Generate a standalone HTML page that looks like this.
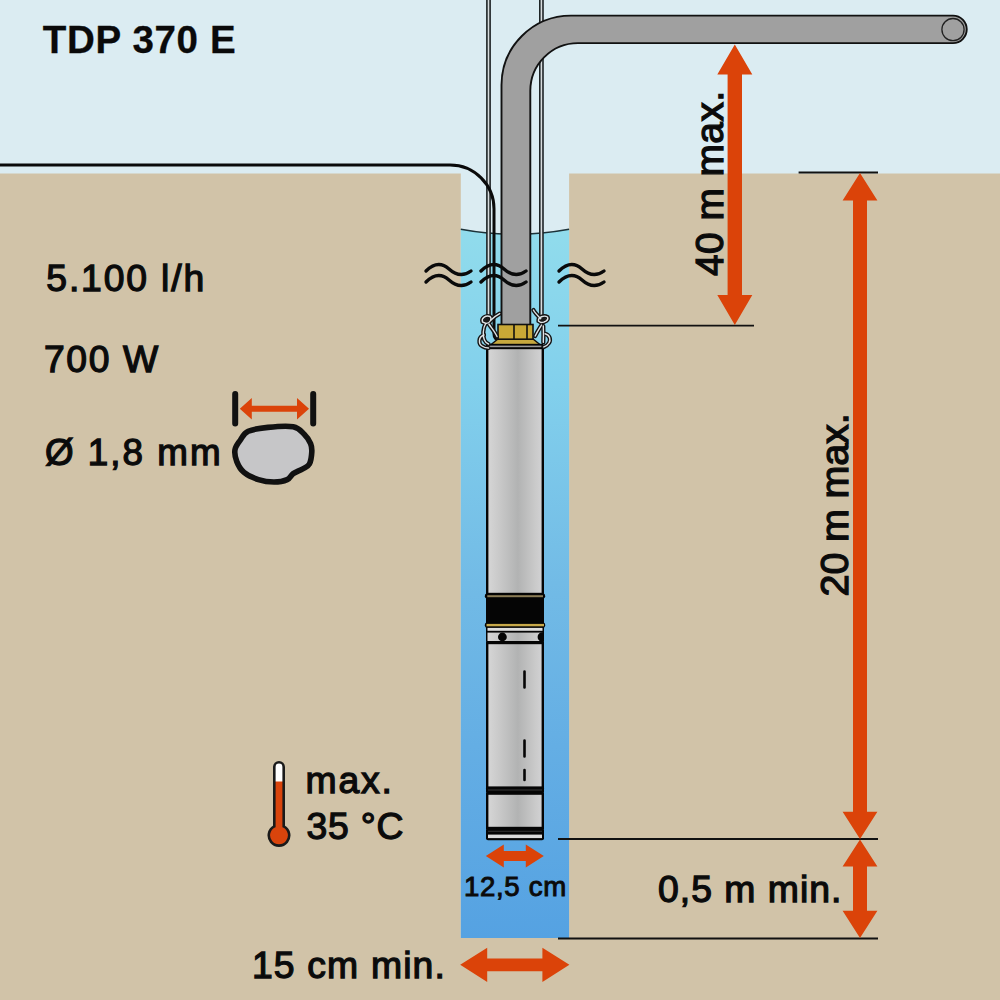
<!DOCTYPE html>
<html><head><meta charset="utf-8"><style>
html,body{margin:0;padding:0;width:1000px;height:1000px;overflow:hidden;background:#dbecf2}
svg{display:block}
text{font-family:"Liberation Sans",sans-serif;fill:#0a0a0a}
</style></head><body>
<svg width="1000" height="1000" viewBox="0 0 1000 1000">
<defs>
<linearGradient id="water" x1="0" y1="228" x2="0" y2="938" gradientUnits="userSpaceOnUse">
<stop offset="0" stop-color="#91dcec"/>
<stop offset="0.22" stop-color="#82d0ec"/>
<stop offset="0.5" stop-color="#72bbe6"/>
<stop offset="0.73" stop-color="#64aee4"/>
<stop offset="1" stop-color="#55a2e2"/>
</linearGradient>
<linearGradient id="metal" x1="486" y1="0" x2="544" y2="0" gradientUnits="userSpaceOnUse">
<stop offset="0" stop-color="#d8d8d8"/>
<stop offset="0.2" stop-color="#cbcbcb"/>
<stop offset="0.55" stop-color="#b2b3b3"/>
<stop offset="0.85" stop-color="#cacaca"/>
<stop offset="1" stop-color="#d4d4d6"/>
</linearGradient>
</defs>
<!-- sky -->
<rect x="0" y="0" width="1000" height="1000" fill="#dbecf2"/>
<!-- ground -->
<path d="M0,173.5 H460.8 V938 H569.1 V173.5 H1000 V1000 H0 Z" fill="#d1c3a8"/>
<!-- water -->
<path d="M460.8,229.3 Q515,239.3 569.1,229.3 V938 H460.8 Z" fill="url(#water)"/>
<path d="M460.8,229.3 Q515,239.3 569.1,229.3" fill="none" stroke="#1c3238" stroke-width="1.6"/>

<!-- ropes -->
<path d="M488.5,-2 V322 M541.4,-2 V322" fill="none" stroke="#1e2426" stroke-width="4.8"/>
<path d="M488.5,-2 V322 M541.4,-2 V322" fill="none" stroke="#d8dcde" stroke-width="1.6"/>

<!-- cable -->
<path d="M-2,165 H450 A44,44 0 0 1 494,209 V334 C494,338 496,340 499,338" fill="none" stroke="#0a0a0a" stroke-width="3"/>

<!-- pipe -->
<path d="M501.5,325 V85.1 A69.5,69.5 0 0 1 571,15.6 H953 A13.75,13.75 0 0 1 953,43.1 H578 A47.7,47.7 0 0 0 530.3,90.8 V325 Z" fill="#a0a0a0" stroke="#111" stroke-width="1.9"/>
<circle cx="953" cy="29.6" r="11.1" fill="none" stroke="#222" stroke-width="1.3"/>

<!-- brass nut -->
<path d="M490.5,345 L498,339 H533 L540.5,345 Z" fill="#c6a83e" stroke="#111" stroke-width="1.4"/>
<rect x="498" y="324.5" width="35" height="14.7" fill="#c9a836" stroke="#111" stroke-width="1.6"/>
<path d="M514,324.5 V339 M527,324.5 V339" stroke="#111" stroke-width="1.6"/>

<!-- pump body -->
<rect x="487.2" y="346" width="55.6" height="248" fill="url(#metal)" stroke="#050505" stroke-width="2.4"/>
<rect x="487" y="343.8" width="56" height="5.4" fill="#050505"/>
<rect x="488.5" y="345.6" width="53" height="1.6" fill="#9a9a9a"/>
<!-- knots -->
<g id="knots" fill="none" stroke-linecap="round">
<g stroke="#141414" stroke-width="4.2">
<path d="M482.5,322 C481,318 486,315 490,316.5 C492.5,319 490,323 486,323.5 Z"/>
<path d="M485.5,324 C483,328 482.5,336 484.4,340 C485.5,342.5 487,343.5 488.5,344"/>
<path d="M488.9,324 C491.5,328 495,332 497,336.5"/>
<path d="M491,320 C494,317 497,315 499.7,313.6"/>
<path d="M484,335 C478,337 478.5,344 482,346 C484,347.5 486,348 488.5,348"/>
<path d="M538.5,321 C538,317 544,315 547.5,317 C549,320 545,322.5 541,322.5 Z"/>
<path d="M541,319 C538,316 535,313 533.4,310"/>
<path d="M541.5,325 C539,329 537,332 535.2,336"/>
<path d="M543.3,326 C543.5,332 543.5,338 543.3,342.4"/>
<path d="M545.1,333.8 C550,335 551,340 549,343 C547.5,345.5 545,346.5 543.8,347"/>
</g>
<g stroke="#dfe3e5" stroke-width="1.4">
<path d="M482.5,322 C481,318 486,315 490,316.5 C492.5,319 490,323 486,323.5 Z"/>
<path d="M485.5,324 C483,328 482.5,336 484.4,340 C485.5,342.5 487,343.5 488.5,344"/>
<path d="M488.9,324 C491.5,328 495,332 497,336.5"/>
<path d="M491,320 C494,317 497,315 499.7,313.6"/>
<path d="M484,335 C478,337 478.5,344 482,346 C484,347.5 486,348 488.5,348"/>
<path d="M538.5,321 C538,317 544,315 547.5,317 C549,320 545,322.5 541,322.5 Z"/>
<path d="M541,319 C538,316 535,313 533.4,310"/>
<path d="M541.5,325 C539,329 537,332 535.2,336"/>
<path d="M543.3,326 C543.5,332 543.5,338 543.3,342.4"/>
<path d="M545.1,333.8 C550,335 551,340 549,343 C547.5,345.5 545,346.5 543.8,347"/>
</g>
</g>

<path d="M484,321 C483.5,318.5 486.5,317.5 489,318 C490,320 488.5,322 486,322 Z M540.5,320.5 C540.5,318.5 544,317.5 546,318.5 C546.5,320 544,321.5 542,321.5 Z" fill="#1a1a1a"/>
<!-- band -->
<rect x="486" y="594" width="58" height="49" rx="2" fill="#050505"/>
<rect x="484.8" y="593.6" width="60.4" height="5" rx="2.4" fill="#050505"/>
<rect x="484.8" y="622.4" width="60.4" height="5.4" rx="2.4" fill="#050505"/>
<rect x="487.3" y="595.2" width="55.7" height="2" fill="#8a7c55"/>
<rect x="486.5" y="623.9" width="57.5" height="2.4" fill="#c7a94a"/>
<rect x="487.5" y="627.9" width="55" height="2.9" fill="#dedede"/>
<rect x="487.5" y="632.6" width="55" height="8.4" fill="url(#metal)"/>
<circle cx="502.4" cy="637" r="4.4" fill="#050505"/>
<path d="M543.6,632.6 A4.3,4.3 0 0 0 543.6,641.4 Z M543.6,632.6 A4.4,4.4 0 0 0 537.6,637 A4.4,4.4 0 0 0 543.6,641.4 Z" fill="#050505"/>
<!-- lower body -->
<rect x="487.2" y="643" width="55.6" height="145" fill="url(#metal)" stroke="#050505" stroke-width="2.4"/>
<rect x="486" y="786.6" width="58" height="7" rx="2" fill="#050505"/>
<rect x="488" y="789.6" width="54" height="0.8" fill="#444"/>
<rect x="487.2" y="793.6" width="55.6" height="34.4" fill="url(#metal)" stroke="#050505" stroke-width="2.4"/>
<rect x="486" y="828" width="58" height="12.2" rx="2" fill="#050505"/>
<rect x="488" y="830.8" width="54" height="0.8" fill="#444"/>
<rect x="488" y="834.6" width="54" height="3.5" fill="#dcdcdc"/>
<!-- dashes -->
<g stroke="#050505" stroke-width="2.6" stroke-linecap="round">
<path d="M524.5,671.5 V687.5 M524.5,740.5 V756.5 M524.5,770 V780"/>
</g>

<!-- waves -->
<g fill="none" stroke="#0a0a0a" stroke-width="3.4" stroke-linecap="round">
<path d="M426,271 Q438,259 449,269 T471,271"/>
<path d="M426,282 Q438,270 449,280 T471,282"/>
<path d="M481,271 Q493,259 504,269 T526,271"/>
<path d="M481,282 Q493,270 504,280 T526,282"/>
<path d="M559,271 Q571,259 582,269 T604,271"/>
<path d="M559,282 Q571,270 582,280 T604,282"/>
</g>

<!-- measurement lines -->
<g stroke="#111" stroke-width="1.8">
<path d="M558,325.7 H754 M798.6,172.5 H878 M558,839 H878 M558,938.5 H878"/>
</g>
<!-- arrows -->
<g fill="#db4309">
<polygon points="734.8,44.5 752.3,74.5 742,74.5 742,295 752.3,295 734.8,325 717.3,295 727.6,295 727.6,74.5 717.3,74.5"/>
<polygon points="860,173 877.4,200.5 867,200.5 867,811.7 877.4,811.7 860,839 842.6,811.7 853,811.7 853,200.5 842.6,200.5"/>
<polygon points="860,839.5 877.4,866.6 867,866.6 867,910.8 877.4,910.8 860,938 842.6,910.8 853,910.8 853,866.6 842.6,866.6"/>
<polygon points="485.8,856 503.8,844.5 503.8,851 525.8,851 525.8,844.5 543.8,856 525.8,867.5 525.8,861 503.8,861 503.8,867.5"/>
<polygon points="460.2,964.8 487.2,947.7 487.2,958.4 542.4,958.4 542.4,947.7 569.4,964.8 542.4,982 542.4,971.2 487.2,971.2 487.2,982"/>
<polygon points="239.8,408.8 251.8,398 251.8,405.8 297,405.8 297,398 309,408.8 297,419.6 297,411.8 251.8,411.8 251.8,419.6"/>
</g>

<!-- caliper bars -->
<g stroke="#111" stroke-width="6" stroke-linecap="round">
<path d="M235.2,394 V423.5 M313.2,394 V423.5"/>
</g>
<!-- blob -->
<path d="M248.2,431.3 C252.8,429.2 260.5,428.1 268.0,427.4 C275.5,426.6 287.2,425.7 293.2,426.8 C299.2,427.9 301.1,431.2 304.0,434.0 C306.9,436.8 309.3,440.6 310.6,443.6 C311.9,446.6 312.0,448.6 311.8,452.0 C311.6,455.4 310.9,461.2 309.4,464.0 C307.9,466.8 305.5,467.2 302.8,468.8 C300.1,470.4 295.8,471.8 293.2,473.6 C290.6,475.4 290.4,478.2 287.2,479.6 C284.0,481.0 278.8,482.0 274.0,482.0 C269.2,482.0 263.4,481.2 258.4,479.6 C253.4,478.0 247.6,475.4 244.0,472.4 C240.4,469.4 238.3,465.4 236.8,461.6 C235.3,457.8 234.4,453.2 235.0,449.6 C235.6,446.0 238.2,443.1 240.4,440.0 C242.6,436.9 243.6,433.4 248.2,431.3Z" fill="#c6c6c8" stroke="#111" stroke-width="5.6" stroke-linejoin="round"/>

<!-- thermometer -->
<path d="M274.3,767 A4.7,4.7 0 0 1 283.7,767 V826.35 A10.2,10.2 0 1 1 274.3,826.35 Z" fill="#fff"/>
<path d="M274.3,781.5 H283.7 V826.35 A10.2,10.2 0 1 1 274.3,826.35 Z" fill="#d9440c"/>
<path d="M274.3,767 A4.7,4.7 0 0 1 283.7,767 V826.35 A10.2,10.2 0 1 1 274.3,826.35 Z" fill="none" stroke="#1a1a1a" stroke-width="2.6"/>

<!-- texts -->
<g fill="#0d0d0d" stroke="#0d0d0d">
<text x="42.80" y="53.30" font-size="38.52" font-weight="bold" stroke-width="0.30" textLength="192.82" lengthAdjust="spacing">TDP 370 E</text>
<text x="46.30" y="291.30" font-size="37.35" stroke-width="1.30" textLength="157.88" lengthAdjust="spacing">5.100 l/h</text>
<text x="44.00" y="372.30" font-size="37.35" stroke-width="1.30" textLength="114.14" lengthAdjust="spacing">700 W</text>
<text x="45.00" y="464.50" font-size="36.77" stroke-width="1.30" textLength="175.59" lengthAdjust="spacing">Ø 1,8 mm</text>
<text x="305.60" y="793.30" font-size="37.35" stroke-width="1.30" textLength="86.34" lengthAdjust="spacing">max.</text>
<text x="306.40" y="838.80" font-size="37.35" stroke-width="1.30" textLength="97.03" lengthAdjust="spacing">35 °C</text>
<text x="464.00" y="896.20" font-size="27.62" stroke-width="1.00" textLength="102.14" lengthAdjust="spacing">12,5 cm</text>
<text x="251.90" y="978.00" font-size="37.35" stroke-width="1.30" textLength="193.02" lengthAdjust="spacing">15 cm min.</text>
<text x="658.00" y="902.20" font-size="37.35" stroke-width="1.30" textLength="183.33" lengthAdjust="spacing">0,5 m min.</text>
<text transform="translate(722.60,276.00) rotate(-90)" x="0.00" y="0" font-size="38.81" stroke-width="1.30" textLength="185.11" lengthAdjust="spacing">40 m max.</text>
<text transform="translate(848.40,596.40) rotate(-90)" x="0.00" y="0" font-size="39.53" stroke-width="1.30" textLength="183.07" lengthAdjust="spacing">20 m max.</text>
</g>
</svg>
</body></html>
